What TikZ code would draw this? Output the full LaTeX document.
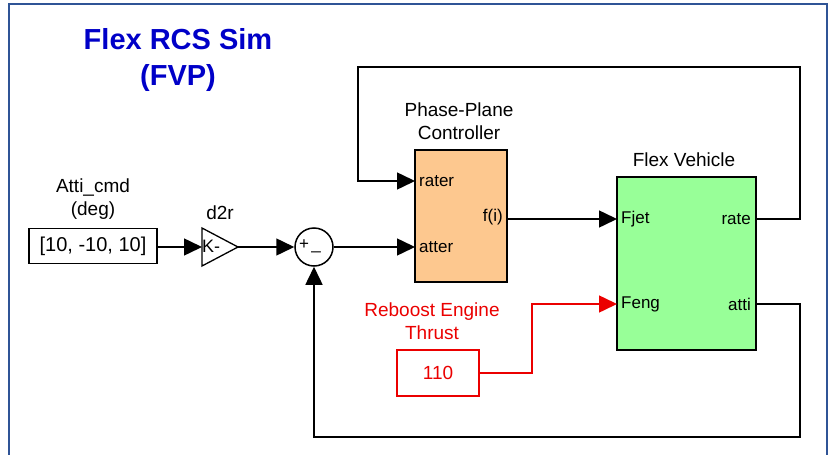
\documentclass[tikz,border=0pt]{standalone}
\usepackage{fontspec}
\setmainfont{Liberation Sans}
\usetikzlibrary{arrows.meta}
\definecolor{framebl}{RGB}{47,84,150}
\definecolor{titlebl}{RGB}{0,0,200}
\definecolor{ctrlor}{RGB}{253,200,143}
\definecolor{vehgr}{RGB}{152,255,152}
\definecolor{redc}{RGB}{235,0,0}
\tikzset{
  blk/.style={draw, line width=1.5pt, inner sep=0pt},
  wire/.style={line width=1.5pt},
  sig/.style={wire, -{Triangle[length=18pt,width=17pt]}},
  lbl/.style={font=\fontsize{19}{23.5}\selectfont, align=center, inner sep=0pt},
  port/.style={font=\fontsize{17}{20}\selectfont, inner sep=0pt},
}
\begin{document}
\begin{tikzpicture}[x=1pt,y=-1pt]
\useasboundingbox (0,0) rectangle (830,455);
\fill[white] (0,0) rectangle (830,455);
% frame
\draw[framebl, line width=1.5pt] (9,470) -- (9,4) -- (827,4) -- (827,470);
% title
\node[font=\bfseries\fontsize{29}{36}\selectfont, text=titlebl, align=center, inner sep=0pt] (title) at (178,60) {Flex RCS Sim\\(FVP)};

% command block
\node[blk, minimum width=128pt, minimum height=35pt] (cmd) at (93,246) {\fontsize{20}{23}\selectfont [10, -10, 10]};
\node[lbl] (cmdlbl) at (93,199) {Atti\_cmd\\(deg)};

% gain
\coordinate (gin) at (202,247);
\coordinate (gout) at (238,247);
\draw[wire, line width=1.3pt] (202,228) -- (238,247) -- (202,266) -- cycle;
\node[port, anchor=west, font=\fontsize{18}{20}\selectfont] (gk) at (202,246) {K-};
\node[lbl] (gainlbl) at (220,213) {d2r};

% sum
\node[draw, circle, line width=1.5pt, minimum size=38pt, inner sep=0pt] (sum) at (314,247) {};
\node[port] (plus) at (304,245) {+};
\node[port] (minus) at (316,251) {\_};

% controller
\node[blk, fill=ctrlor, minimum width=92pt, minimum height=132pt] (ctrl) at (461,216) {};
\node[lbl] (ctrllbl) at (459,121) {Phase-Plane\\Controller};
\coordinate (rater) at (415,181);
\coordinate (atter) at (415,247);
\coordinate (fout) at (507,219);
\node[port, anchor=west] (raterl) at (419,181) {rater};
\node[port, anchor=west] (atterl) at (419,247) {atter};
\node[port, anchor=east] (foutl) at (503,217) {f(i)};

% vehicle
\node[blk, fill=vehgr, minimum width=139pt, minimum height=173pt] (veh) at (686.5,263.5) {};
\node[lbl] (vehlbl) at (684,160) {Flex Vehicle};
\coordinate (fjet) at (617,219);
\coordinate (feng) at (617,304);
\coordinate (rate) at (756,219);
\coordinate (atti) at (756,304);
\node[port, anchor=west] (fjetl) at (621,219) {Fjet};
\node[port, anchor=west] (fengl) at (621,304) {Feng};
\node[port, anchor=east] (ratel) at (751,219) {rate};
\node[port, anchor=east] (attil) at (751,304) {atti};

% reboost
\node[blk, draw=redc, minimum width=82pt, minimum height=46pt] (boost) at (438,373) {\textcolor{redc}{\fontsize{19}{22}\selectfont 110}};
\node[lbl, text=redc] (boostlbl) at (432,321) {Reboost Engine\\Thrust};

% connectors
\draw[sig] (cmd.east |- gin) -- (gin);
\draw[sig] (gout) -- (sum.west);
\draw[sig] (sum.east) -- (atter);
\draw[sig] (fout) -- (fjet);
\draw[sig] (rate) -- (800,219) -- (800,67) -- (358,67) -- (358,181) -- (rater);
\draw[sig] (atti) -- (800,304) -- (800,437) -- (314,437) -- (sum.south);
\draw[sig, redc] (boost.east) -- (532,373) -- (532,304) -- (feng);
\end{tikzpicture}
\end{document}
